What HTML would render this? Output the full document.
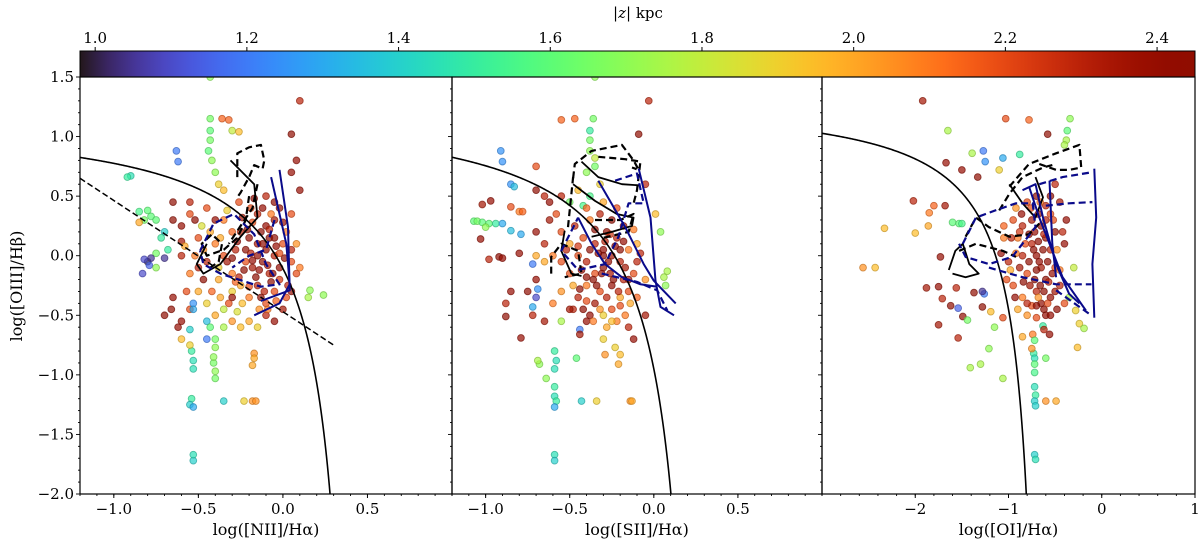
<!DOCTYPE html>
<html><head><meta charset="utf-8">
<style>
html,body{margin:0;padding:0;background:#fff;}
svg{display:block;font-family:"DejaVu Serif","Liberation Serif",serif;}
</style></head>
<body>
<svg id="chart" width="1200" height="550" viewBox="0 0 1200 550" xmlns="http://www.w3.org/2000/svg">
<defs><linearGradient id="turbo" x1="0" x2="1" y1="0" y2="0"></linearGradient></defs>
<g id="cbar"></g>
<g id="panels"></g>
<text x="0" y="0" transform="translate(22,286) rotate(-90)" text-anchor="middle" font-size="16">log([OIII]/Hβ)</text>
</svg>
<script>
// ---- data ----
const cbarTicks = [1.0, 1.2, 1.4, 1.6, 1.8, 2.0, 2.2, 2.4];
const yTicks = [1.5, 1.0, 0.5, 0.0, -0.5, -1.0, -1.5, -2.0];
const xTicksA = [-1.0, -0.5, 0.0, 0.5];
const xTicksB = [-1.0, -0.5, 0.0, 0.5];
const xTicksC = [-2, -1, 0, 1];

const pointsNII = [
[-0.25,0.2,2.3],[-0.2,0.15,2.4],[-0.15,0.1,2.35],[-0.1,0.05,2.4],[-0.05,0.0,2.3],[0,0.1,2.2],[-0.12,-0.05,2.45],[-0.18,-0.1,2.35],[-0.08,-0.15,2.3],[-0.02,-0.2,2.25],[-0.22,-0.05,2.2],[-0.28,0.05,2.3],[-0.3,-0.15,2.1],[-0.15,-0.25,2.3],[-0.05,-0.3,2.2],[-0.1,0.25,2.4],[-0.05,0.3,2.35],[-0.15,0.35,2.3],[0.02,0.2,2.1],[0.05,-0.05,2.2],[-0.25,-0.25,2.0],[-0.2,-0.35,2.1],[-0.1,-0.4,2.2],[-0.3,-0.3,1.9],[-0.35,0.0,2.2],[-0.4,0.1,2.1],[-0.45,-0.05,2.3],[-0.38,-0.2,2.0],[-0.12,0.4,2.4],[-0.02,0.4,2.45],[0.05,0.05,2.3],[0.08,-0.15,2.2],[-0.08,0.15,2.45],[-0.18,0.28,2.2],[-0.3,0.2,2.15],[-0.02,-0.1,2.4],[-0.07,-0.22,2.45],[-0.22,0.05,2.45],[-0.14,-0.12,2.4],[-0.26,-0.18,2.3],
[-0.6,0.25,2.4],[-0.55,0.35,2.2],[-0.65,0.45,2.45],[-0.5,0.15,2.2],[-0.6,0.0,2.3],[-0.55,-0.15,2.1],[-0.65,-0.35,2.4],[-0.7,-0.5,2.45],[-0.6,-0.55,2.4],[-0.55,-0.45,2.2],[-0.5,-0.3,2.0],[-0.45,-0.4,1.9],[-0.4,-0.5,2.0],[-0.35,-0.45,1.8],[-0.3,-0.55,2.05],[-0.25,-0.6,1.95],[-0.2,-0.55,2.0],[-0.15,-0.6,1.9],[-0.1,-0.5,2.3],[-0.05,-0.55,2.4],[0.05,-0.3,2.4],[0.1,-0.1,2.1],[0.08,0.1,2.05],[0.05,0.35,2.2],[0.1,0.55,2.4],[0.05,0.7,2.4],[0.05,1.02,2.45],[0.08,0.8,2.4],[0.1,1.3,2.3],[-0.36,1.15,2.15],[-0.32,1.14,2.15],[-0.3,1.05,1.8],[-0.26,1.04,1.95],[-0.43,1.15,1.65],[-0.43,1.05,1.6],[-0.43,0.97,1.65],[-0.44,0.88,1.6],[-0.42,0.8,1.7],[-0.4,0.7,1.7],[-0.38,0.6,1.9],[-0.35,0.55,1.95],[-0.63,0.88,1.2],[-0.62,0.79,1.2],[-0.9,0.67,1.45],[-0.92,0.66,1.5],[-0.8,0.38,1.6],[-0.78,0.33,1.6],[-0.82,0.3,1.65],[-0.75,0.3,1.6],[-0.85,0.37,1.55],[-0.7,0.2,1.4],[-0.72,0.15,1.5],[-0.68,0.05,1.5],[-0.75,0.02,1.65],[-0.8,-0.05,1.0],[-0.78,-0.02,1.05],[-0.82,-0.03,1.1],[-0.83,-0.15,1.1],[-0.79,-0.08,1.15],[-0.7,-0.02,1.05],[-0.85,0.28,2.0],[-0.75,-0.1,1.7],[-0.53,-0.4,1.25],[-0.53,-0.45,1.3],[-0.45,-0.55,1.35],[-0.55,-0.62,1.4],[-0.45,-0.7,1.2],[-0.4,-0.7,1.65],[-0.35,-0.6,1.75],[-0.43,-0.6,1.6],[-0.54,-0.8,1.5],[-0.53,-0.88,1.45],[-0.53,-0.95,1.45],[-0.54,-1.2,1.5],[-0.55,-1.25,1.4],[-0.53,-1.27,1.3],[-0.53,-1.72,1.4],[-0.53,-1.67,1.45],[-0.41,-0.9,1.65],[-0.41,-0.85,1.7],[-0.4,-0.97,1.7],[-0.4,-1.03,1.65],[-0.4,-0.77,1.7],[-0.35,-1.22,1.4],[-0.23,-1.22,1.9],[-0.18,-1.22,2.05],[-0.16,-1.22,2.05],[-0.17,-0.82,2.05],[-0.17,-0.86,2.0],[-0.18,-0.92,2.0],[-0.6,-0.7,1.95],[-0.55,-0.75,1.9],[0.16,-0.29,1.7],[0.15,-0.35,1.75],[0.24,-0.33,1.7],[-0.43,1.5,1.7],[-0.55,0.45,2.3],[-0.65,0.3,2.45],[-0.6,0.12,2.35],[-0.5,-0.1,2.3],[-0.48,0.25,1.85],[-0.35,0.3,2.1],[0.0,-0.45,2.35],[-0.3,-0.35,2.4],[-0.66,-0.45,2.45],[-0.62,-0.6,2.4],[-0.4,0.3,2.4],[-0.45,0.4,2.2],[-0.15,0.0,2.4],[-0.05,0.15,2.45],
[-0.27,0.12,2.4],[-0.23,-0.12,2.45],[-0.19,0.02,2.3],[-0.13,0.2,2.45],[-0.09,-0.08,2.35],[-0.04,0.08,2.4],[0.01,-0.02,2.45],[-0.16,-0.18,2.45],[-0.11,-0.3,2.3],[-0.2,-0.26,2.2],[-0.28,-0.22,2.15],[-0.33,-0.05,2.35],[-0.37,0.15,2.0],[-0.24,0.32,2.35],[-0.19,0.4,2.2],[-0.07,0.35,2.1],[0.0,0.28,2.4],[0.03,-0.25,2.3],[-0.04,-0.38,2.15],[-0.14,-0.45,2.05],[-0.24,-0.4,1.95],[-0.32,-0.4,2.2],[-0.42,-0.3,2.15],[-0.47,-0.2,2.45],[-0.52,0.0,2.1],[-0.43,0.2,2.0],[-0.33,0.38,1.9],[-0.26,0.45,2.2],[-0.17,0.48,2.4],[-0.1,0.5,2.3],[-0.06,-0.15,2.45],[-0.12,0.1,2.45],[-0.21,0.22,2.45],[-0.3,-0.02,2.45],[-0.18,-0.04,2.4],[-0.08,0.22,2.3],[-0.02,0.02,2.2],[0.02,-0.35,2.2],[-0.09,-0.45,2.1],[-0.27,-0.47,1.85],[-0.37,-0.35,2.0],[-0.57,-0.3,2.2],[-0.58,0.08,2.0],[-0.52,0.3,2.45],[-0.47,0.05,2.05],[-0.38,-0.1,1.9],[-0.13,-0.35,2.45],[-0.05,0.45,2.45]
];
const pointsSII = [
[-0.35,0.1,2.3],[-0.3,0.05,2.4],[-0.25,0.0,2.35],[-0.2,-0.05,2.3],[-0.3,-0.1,2.45],[-0.35,-0.15,2.2],[-0.4,-0.05,2.3],[-0.45,0.0,2.2],[-0.28,0.2,2.4],[-0.22,0.15,2.3],[-0.15,0.05,2.1],[-0.18,-0.2,2.3],[-0.25,-0.25,2.4],[-0.32,-0.3,2.2],[-0.4,-0.25,2.1],[-0.45,-0.35,2.3],[-0.35,-0.4,2.35],[-0.25,-0.45,2.2],[-0.2,-0.35,2.0],[-0.15,-0.3,2.2],[-0.42,0.15,2.2],[-0.38,0.3,2.1],[-0.32,0.35,2.3],[-0.25,0.3,2.45],[-0.5,-0.15,2.2],[-0.52,0.05,2.3],[-0.48,-0.25,2.0],[-0.3,-0.5,1.9],[-0.22,-0.55,2.1],[-0.38,-0.5,2.4],[-0.28,-0.6,2.0],[-0.12,-0.15,2.2],[-0.1,0.1,2.0],[-0.42,-0.45,2.45],[-0.3,0.0,2.45],[-0.2,0.05,2.45],[-0.36,-0.2,2.45],[-0.26,-0.15,2.35],
[-1.02,0.43,2.35],[-0.97,0.46,2.4],[-0.85,0.41,2.2],[-0.8,0.37,2.1],[-0.78,0.37,2.15],[-1.03,0.14,2.4],[-0.92,-0.01,2.45],[-0.9,-0.02,2.4],[-0.98,-0.03,2.3],[-0.8,0.02,2.4],[-0.7,0.55,2.45],[-0.65,0.5,2.3],[-0.7,0.75,2.2],[-0.62,0.45,2.4],[-0.58,0.35,2.2],[-0.7,0.2,2.4],[-0.65,0.1,2.3],[-0.6,0.0,2.1],[-0.65,-0.05,2.0],[-0.7,-0.2,2.4],[-0.75,-0.3,2.45],[-0.85,-0.3,2.4],[-0.88,-0.4,2.3],[-0.88,-0.51,2.45],[-0.79,-0.69,2.4],[-0.72,-0.5,2.3],[-0.65,-0.55,2.35],[-0.72,-0.07,1.2],[-0.69,-0.28,1.25],[-0.72,-0.43,1.3],[-0.7,-0.35,1.1],[-0.85,0.21,1.35],[-0.79,0.18,1.3],[-0.6,-0.4,2.1],[-0.55,-0.55,1.75],[-0.59,-0.8,1.5],[-0.58,-0.88,1.45],[-0.59,-0.95,1.45],[-0.59,-1.1,1.5],[-0.59,-1.18,1.45],[-0.58,-1.22,1.5],[-0.59,-1.27,1.3],[-0.59,-1.67,1.45],[-0.59,-1.72,1.4],[-0.68,-0.91,1.7],[-0.69,-0.88,1.75],[-0.64,-1.03,1.7],[-0.46,-0.86,1.6],[-0.44,-0.62,1.2],[-0.44,-0.66,2.35],[-0.43,-1.22,1.4],[-0.34,-1.22,1.9],[-0.14,-1.22,2.05],[-0.13,-1.22,2.0],[-0.29,-0.83,2.05],[-0.2,-0.83,1.95],[-0.23,-0.77,1.9],[-0.21,-0.91,2.0],[-0.4,-0.55,2.4],[-0.3,-0.7,1.9],[-0.15,-0.6,2.3],[-0.12,-0.7,2.4],
[-1.07,0.29,1.6],[-1.05,0.29,1.65],[-1.02,0.28,1.6],[-0.98,0.27,1.6],[-1.0,0.24,1.7],[-0.94,0.27,1.5],[-0.9,0.27,1.3],[-0.91,0.88,1.25],[-0.9,0.79,1.25],[-0.85,0.6,1.25],[-0.83,0.58,1.35],[-0.55,1.14,2.15],[-0.47,1.15,2.15],[-0.36,1.15,1.65],[-0.38,1.05,1.5],[-0.38,0.97,1.65],[-0.38,0.88,1.7],[-0.35,0.82,1.8],[-0.35,0.75,1.65],[-0.4,0.7,1.7],[-0.32,0.6,1.9],[-0.38,0.5,1.55],[-0.42,0.42,1.55],[-0.5,0.45,1.65],[-0.03,1.3,2.3],[-0.09,1.02,2.45],[-0.05,0.6,2.3],[0.01,0.35,1.95],[0.04,0.2,1.7],[0.08,-0.13,1.75],[0.06,-0.18,1.75],[0.07,-0.25,1.7],[-0.05,-0.5,2.35],[-0.45,0.55,1.95],[-0.35,1.5,1.7],[-0.55,0.5,2.3],[-0.7,0.0,2.0],[-0.62,0.3,2.35],[-0.55,0.2,2.2],[-0.48,-0.45,2.3],
[-0.33,0.02,2.45],[-0.27,-0.05,2.4],[-0.23,0.08,2.45],[-0.17,-0.1,2.35],[-0.29,0.12,2.3],[-0.38,0.05,2.45],[-0.43,-0.12,2.4],[-0.34,-0.25,2.45],[-0.28,-0.35,2.3],[-0.2,-0.42,2.2],[-0.15,-0.2,2.4],[-0.1,-0.05,2.3],[-0.12,0.22,2.1],[-0.18,0.25,2.35],[-0.22,0.4,2.2],[-0.3,0.45,2.0],[-0.4,0.4,2.15],[-0.47,0.25,2.3],[-0.5,0.1,2.0],[-0.55,-0.05,2.2],[-0.55,-0.3,2.05],[-0.5,-0.45,2.35],[-0.4,-0.38,2.2],[-0.32,-0.45,2.05],[-0.25,-0.55,1.95],[-0.17,-0.5,2.1],[-0.1,-0.35,2.15],[-0.05,-0.2,2.05],[-0.08,0.02,2.3],[-0.35,0.22,2.45],[-0.24,-0.2,2.45],[-0.4,-0.18,2.45],[-0.31,-0.15,2.4],[-0.21,-0.3,2.3],[-0.45,0.08,2.25],[-0.26,0.18,2.25],[-0.14,-0.4,2.0],[-0.36,-0.55,2.1],[-0.18,0.12,2.4],[-0.44,-0.28,2.45]
];
const pointsOI = [
[-0.75,0.1,2.3],[-0.7,0.0,2.4],[-0.65,-0.1,2.35],[-0.6,-0.2,2.45],[-0.7,-0.3,2.3],[-0.8,-0.15,2.2],[-0.85,0.0,2.3],[-0.9,0.15,2.1],[-0.75,0.3,2.35],[-0.65,0.25,2.4],[-0.55,0.05,2.3],[-0.5,-0.1,2.2],[-0.55,-0.35,2.4],[-0.65,-0.4,2.45],[-0.75,-0.42,2.2],[-0.85,-0.35,2.1],[-0.95,-0.25,2.2],[-1.0,-0.05,2.3],[-0.8,0.45,2.2],[-0.7,0.5,2.45],[-0.6,0.42,2.3],[-0.55,0.35,2.2],[-0.5,0.2,2.45],[-0.45,-0.25,2.3],[-0.6,-0.5,2.4],[-0.7,-0.52,2.2],[-0.62,-0.45,2.45],[-0.8,-0.5,2.05],[-0.9,-0.45,2.0],[-0.72,-0.2,2.45],[-0.68,0.12,2.45],[-0.78,-0.05,2.45],[-0.58,-0.05,2.45],[-0.85,0.25,2.3],[-0.95,0.3,2.2],[-1.05,0.15,2.1],[-0.6,0.15,2.4],[-0.7,-0.42,2.45],
[-1.92,1.3,2.35],[-1.03,1.15,2.2],[-0.78,1.14,2.15],[-0.34,1.15,1.7],[-1.65,1.05,1.75],[-0.58,1.02,2.45],[-0.37,1.05,1.6],[-0.38,0.97,1.75],[-0.4,0.93,1.75],[-1.27,0.88,1.2],[-1.25,0.79,1.25],[-1.06,0.82,1.3],[-0.88,0.85,1.5],[-1.39,0.86,1.75],[-1.67,0.78,2.4],[-1.5,0.72,2.4],[-1.33,0.66,2.45],[-1.1,0.72,1.9],[-2.02,0.46,2.3],[-1.8,0.42,2.15],[-1.85,0.36,2.1],[-1.68,0.42,2.35],[-2.33,0.23,1.95],[-2.0,0.19,1.95],[-1.86,0.25,2.0],[-2.56,-0.1,2.05],[-2.43,-0.1,1.95],[-1.73,-0.01,2.4],[-1.6,0.28,1.6],[-1.53,0.27,1.6],[-1.5,0.27,1.55],[-1.88,-0.27,2.35],[-1.75,-0.26,2.4],[-1.71,-0.36,2.3],[-1.62,-0.42,2.45],[-1.56,-0.27,2.3],[-1.54,-0.44,1.15],[-1.49,-0.51,2.45],[-1.75,-0.58,2.35],[-1.54,-0.69,2.3],[-1.26,-0.32,1.2],[-1.28,-0.3,1.05],[-1.37,-0.31,2.45],[-1.28,-0.43,2.45],[-1.44,-0.54,1.65],[-1.19,-0.47,1.95],[-1.06,-0.52,2.2],[-1.15,-0.6,1.7],[-1.21,-0.78,1.7],[-1.3,-0.91,1.75],[-1.41,-0.94,1.75],[-1.06,-1.03,1.75],[-0.85,-0.68,2.0],[-0.74,-0.66,2.1],[-0.63,-0.59,1.5],[-0.56,-0.66,2.4],[-0.26,-0.77,1.95],[-0.24,-0.57,1.9],[-0.19,-0.61,1.75],[-0.28,-0.46,1.9],[-0.35,-0.35,1.75],[-0.3,-0.1,1.8],[-0.4,0.1,2.4],[-0.38,0.3,2.4],[-0.45,0.45,2.35],[-0.5,0.6,2.3],[-0.72,-0.71,1.6],[-0.73,-0.82,1.5],[-0.72,-0.86,1.45],[-0.72,-0.91,1.6],[-0.72,-0.98,1.55],[-0.72,-1.1,1.45],[-0.71,-1.17,1.5],[-0.72,-1.22,1.4],[-0.71,-1.26,1.4],[-0.72,-1.67,1.4],[-0.71,-1.71,1.45],[-0.6,-1.22,2.05],[-0.49,-1.22,2.0],[-0.6,-0.86,1.65],[-0.75,-0.78,2.05],[-0.55,-0.5,2.4],[-0.62,-0.62,2.3],
[-0.73,0.05,2.45],[-0.67,-0.05,2.4],[-0.63,0.05,2.45],[-0.77,-0.25,2.35],[-0.66,-0.25,2.45],[-0.57,-0.22,2.3],[-0.82,0.1,2.2],[-0.88,-0.1,2.35],[-0.92,0.02,2.1],[-0.97,0.15,2.3],[-0.86,0.35,2.4],[-0.76,0.4,2.2],[-0.68,0.35,2.45],[-0.6,0.3,2.3],[-0.52,0.3,2.2],[-0.48,0.05,2.05],[-0.45,-0.12,2.1],[-0.5,-0.3,2.35],[-0.58,-0.4,2.2],[-0.68,-0.35,2.05],[-0.8,-0.4,2.3],[-0.93,-0.35,2.4],[-1.02,-0.2,2.2],[-1.08,0.02,2.4],[-1.05,0.25,2.15],[-0.92,0.4,2.05],[-0.72,0.2,2.4],[-0.62,0.18,2.3],[-0.78,0.18,2.45],[-0.84,-0.22,2.45],[-0.7,-0.12,2.45],[-0.62,-0.3,2.45],[-0.53,-0.15,2.4],[-0.42,0.2,2.3],[-0.4,-0.4,2.2],[-0.48,-0.45,2.45],[-0.66,0.45,2.1],[-0.55,0.5,2.45],[-0.88,0.2,2.25],[-0.98,-0.12,2.0]
];

const tracksNII = [
 {c:"#000",d:true,w:2.2,p:[[-0.27,0.66],[-0.27,0.86],[-0.2,0.91],[-0.13,0.93],[-0.11,0.8],[-0.12,0.73],[-0.17,0.76],[-0.2,0.66],[-0.25,0.53],[-0.27,0.49]]},
 {c:"#000",d:true,w:2.2,p:[[-0.2,0.5],[-0.22,0.3],[-0.27,0.15],[-0.35,0.05],[-0.45,0.0],[-0.48,0.1],[-0.42,0.18],[-0.36,0.1],[-0.38,-0.05],[-0.45,-0.12]]},
 {c:"#000",d:true,w:2.2,p:[[-0.15,0.6],[-0.18,0.4],[-0.25,0.25],[-0.32,0.1]]},
 {c:"#000",d:false,w:1.8,p:[[-0.31,0.8],[-0.17,0.6],[-0.15,0.32],[-0.25,0.16],[-0.37,-0.07],[-0.47,-0.15],[-0.51,-0.07],[-0.45,0.1]]},
 {c:"#0a0a8a",d:false,w:2,p:[[-0.07,0.66],[0.02,0.1],[0.04,-0.24],[-0.02,-0.4],[-0.17,-0.5]]},
 {c:"#0a0a8a",d:false,w:2,p:[[-0.02,0.72],[0.03,0.24],[0.04,-0.29],[-0.13,-0.38]]},
 {c:"#0a0a8a",d:true,w:2.2,p:[[-0.49,0.04],[-0.41,0.27],[-0.29,0.35],[-0.17,0.18],[-0.1,-0.07],[-0.02,-0.24],[-0.13,-0.26],[-0.37,-0.15],[-0.47,-0.07],[-0.49,0.04]]},
 {c:"#0a0a8a",d:true,w:2.2,p:[[-0.05,0.3],[-0.1,0.05],[-0.2,0.0],[-0.3,-0.1]]}
];
const tracksSII = [
 {c:"#000",d:true,w:2.2,p:[[-0.48,0.65],[-0.47,0.77],[-0.37,0.88],[-0.19,0.93],[-0.12,0.8],[-0.09,0.72],[-0.13,0.74]]},
 {c:"#000",d:true,w:2.2,p:[[-0.33,0.83],[-0.17,0.81],[-0.08,0.79],[-0.1,0.55],[-0.12,0.44]]},
 {c:"#000",d:true,w:2.2,p:[[-0.51,0.24],[-0.49,0.52],[-0.48,0.66]]},
 {c:"#000",d:true,w:2.2,p:[[-0.61,-0.15],[-0.61,-0.01],[-0.55,0.1],[-0.45,0.04],[-0.43,-0.15],[-0.53,-0.18]]},
 {c:"#000",d:true,w:2.2,p:[[-0.35,0.3],[-0.2,0.3],[-0.12,0.35],[-0.15,0.2],[-0.3,0.15]]},
 {c:"#000",d:false,w:1.8,p:[[-0.43,0.79],[-0.33,0.66],[-0.19,0.6],[-0.08,0.59]]},
 {c:"#000",d:false,w:1.8,p:[[-0.48,0.6],[-0.35,0.46],[-0.22,0.35],[-0.12,0.32],[-0.13,0.25],[-0.25,0.2],[-0.37,0.16]]},
 {c:"#000",d:false,w:1.8,p:[[-0.53,0.21],[-0.55,0.04],[-0.49,-0.15],[-0.43,-0.17]]},
 {c:"#0a0a8a",d:false,w:2,p:[[-0.09,0.73],[-0.02,0.32],[0.01,-0.21],[0.04,-0.43],[0.12,-0.5]]},
 {c:"#0a0a8a",d:false,w:2,p:[[-0.33,0.63],[-0.17,0.24],[-0.06,-0.07],[0.0,-0.21],[0.13,-0.4]]},
 {c:"#0a0a8a",d:false,w:2,p:[[-0.45,0.32],[-0.37,0.1],[-0.29,-0.07],[-0.19,-0.18],[-0.08,-0.24],[0.02,-0.26]]},
 {c:"#0a0a8a",d:true,w:2.2,p:[[-0.23,0.63],[-0.1,0.69],[-0.06,0.44],[-0.15,0.44],[-0.21,0.16],[-0.29,-0.07],[-0.45,-0.12],[-0.55,0.04],[-0.45,0.32]]},
 {c:"#0a0a8a",d:true,w:2.2,p:[[-0.31,-0.15],[-0.1,-0.22],[0.02,-0.29],[0.08,-0.46]]}
];
const tracksOI = [
 {c:"#000",d:true,w:2.2,p:[[-0.99,0.58],[-0.78,0.77],[-0.49,0.86],[-0.24,0.93],[-0.22,0.74],[-0.35,0.72],[-0.49,0.72],[-0.67,0.77]]},
 {c:"#000",d:true,w:2.2,p:[[-1.1,0.38],[-0.99,0.52],[-0.85,0.66],[-0.63,0.74],[-0.49,0.77]]},
 {c:"#000",d:true,w:2.2,p:[[-1.46,0.16],[-1.35,0.32],[-1.21,0.24],[-0.99,0.16],[-0.78,0.18],[-0.67,0.27]]},
 {c:"#000",d:true,w:2.2,p:[[-1.53,0.04],[-1.35,0.1],[-1.06,0.04],[-0.92,-0.01]]},
 {c:"#000",d:false,w:1.8,p:[[-1.64,-0.12],[-1.57,0.04],[-1.49,0.1],[-1.42,-0.07],[-1.32,-0.15],[-1.46,-0.18],[-1.6,-0.15]]},
 {c:"#000",d:false,w:1.8,p:[[-0.99,0.6],[-0.85,0.44],[-0.71,0.32],[-0.63,0.49],[-0.71,0.66]]},
 {c:"#0a0a8a",d:false,w:2,p:[[-0.08,0.73],[-0.06,0.32],[-0.1,-0.07],[-0.08,-0.52]]},
 {c:"#0a0a8a",d:false,w:2,p:[[-0.85,0.55],[-0.71,0.6],[-0.63,0.32],[-0.49,-0.07],[-0.35,-0.32],[-0.24,-0.4]]},
 {c:"#0a0a8a",d:false,w:2,p:[[-0.78,0.58],[-0.67,0.32],[-0.53,0.04],[-0.42,-0.18],[-0.17,-0.46]]},
 {c:"#0a0a8a",d:false,w:2,p:[[-0.56,0.63],[-0.53,0.1],[-0.49,-0.18]]},
 {c:"#0a0a8a",d:true,w:2.2,p:[[-0.67,0.6],[-0.42,0.66],[-0.11,0.7]]},
 {c:"#0a0a8a",d:true,w:2.2,p:[[-0.6,0.42],[-0.35,0.44],[-0.1,0.45]]},
 {c:"#0a0a8a",d:true,w:2.2,p:[[-1.49,0.1],[-1.35,0.32],[-1.14,0.38],[-0.92,0.44],[-0.74,0.44],[-0.71,0.24],[-0.96,-0.01],[-1.21,-0.07],[-1.46,-0.01],[-1.53,0.1]]},
 {c:"#0a0a8a",d:true,w:2.2,p:[[-1.21,-0.1],[-0.85,-0.18],[-0.49,-0.24],[-0.11,-0.24]]},
 {c:"#0a0a8a",d:true,w:2.2,p:[[-0.49,-0.29],[-0.13,-0.49]]}
];

// ---- rendering ----
const NS = "http://www.w3.org/2000/svg";
function mk(tag, attrs, parent) {
  const e = document.createElementNS(NS, tag);
  for (const k in attrs) e.setAttribute(k, attrs[k]);
  if (parent) parent.appendChild(e);
  return e;
}
const VMIN = 0.98, VMAX = 2.45;
function turbo(t) {
  t = Math.max(0, Math.min(1, t));
  const r = 0.13572138 + t*(4.61539260 + t*(-42.66032258 + t*(132.13108234 + t*(-152.94239396 + t*59.28637943))));
  const g = 0.09140261 + t*(2.19418839 + t*(4.84296658 + t*(-14.18503333 + t*(4.27729857 + t*2.82956604))));
  const b = 0.10667330 + t*(12.64194608 + t*(-60.58204836 + t*(110.36276771 + t*(-89.90310912 + t*27.34824973))));
  const c = v => Math.round(255*Math.max(0, Math.min(1, v)));
  return [c(r), c(g), c(b)];
}
function zcol(z, k) { const c = turbo((z - VMIN)/(VMAX - VMIN)); k = k || 1; return `rgb(${Math.round(c[0]*k)},${Math.round(c[1]*k)},${Math.round(c[2]*k)})`; }

const grad = document.getElementById('turbo');
for (let i = 0; i <= 40; i++) { mk('stop', {offset: (i/40), 'stop-color': zcol(VMIN + (VMAX-VMIN)*i/40)}, grad); }
const cb = document.getElementById('cbar');
const CBX0 = 80, CBX1 = 1195, CBY0 = 51, CBY1 = 77;
const cbScale = v => CBX0 + (v - VMIN)/(VMAX - VMIN)*(CBX1 - CBX0);
const cbRect = mk('rect', {x: CBX0, y: CBY0, width: CBX1-CBX0, height: CBY1-CBY0, fill: 'url(#turbo)', stroke: '#000', 'stroke-width': 1}, cb);


cbarTicks.forEach(v => {
  const x = cbScale(v);
  mk('line', {x1: x, x2: x, y1: CBY0, y2: CBY0-4, stroke: '#000', 'stroke-width': 1}, cb);
  const t = mk('text', {x: x, y: CBY0-8, 'text-anchor': 'middle', 'font-size': 15}, cb);
  t.textContent = v.toFixed(1);
  
  
});
const cbt = mk('text', {x: 638, y: 18, 'text-anchor': 'middle', 'font-size': 15}, cb);
cbt.innerHTML = '|<tspan font-style="italic">z</tspan>| kpc';



const PY0 = 77, PY1 = 494, YMIN = -2.0, YMAX = 1.5;
const yScale = v => PY1 - (v - YMIN)/(YMAX - YMIN)*(PY1 - PY0);
const panelsG = document.getElementById('panels');
const minus = s => s.replace('-', '\u2212');

function drawPanel(cfg) {
  const g = mk('g', {}, panelsG);
  
  
  const xs = v => cfg.x0 + (v - cfg.xmin)/(cfg.xmax - cfg.xmin)*(cfg.x1 - cfg.x0);
  const clipId = 'clip-' + cfg.name;
  const cp = mk('clipPath', {id: clipId}, g);
  mk('rect', {x: cfg.x0, y: PY0, width: cfg.x1-cfg.x0, height: PY1-PY0}, cp);
  const plot = mk('g', {'clip-path': `url(#${clipId})`}, g);
  const pg = mk('g', {}, plot);
  
  
  cfg.points.forEach(p => {
    const c = mk('circle', {cx: xs(p[0]), cy: yScale(p[1]), r: 3.4, fill: zcol(p[2]), 'fill-opacity': 0.7, stroke: zcol(p[2], 0.75), 'stroke-opacity': 0.7, 'stroke-width': 0.9}, pg);
    
    
  });
  let d = '';
  const a = cfg.kew;
  for (let i = 0; i <= 300; i++) {
    const x = cfg.xmin + (a.xend - 0.0005 - cfg.xmin)*i/300;
    const y = a.A/(x - a.B) + a.C;
    if (y < YMIN - 0.5) continue;
    d += (d ? 'L' : 'M') + xs(x).toFixed(2) + ',' + yScale(y).toFixed(2);
  }
  const kc = mk('path', {d: d, fill: 'none', stroke: '#000', 'stroke-width': 1.6}, plot);
  
  
  if (cfg.dashLine) {
    const L = cfg.dashLine;
    const dl = mk('line', {x1: xs(L[0][0]), y1: yScale(L[0][1]), x2: xs(L[1][0]), y2: yScale(L[1][1]), stroke: '#000', 'stroke-width': 1.5, 'stroke-dasharray': '6,3'}, plot);
    
    
  }
  cfg.tracks.forEach(t => {
    const pd = t.p.map((q, i) => (i ? 'L' : 'M') + xs(q[0]).toFixed(1) + ',' + yScale(q[1]).toFixed(1)).join('');
    const tp = mk('path', {d: pd, fill: 'none', stroke: t.c, 'stroke-width': t.w, 'stroke-dasharray': t.d ? '7,4' : 'none', 'stroke-linejoin': 'round'}, plot);
    
    
  });
  const fr = mk('rect', {x: cfg.x0, y: PY0, width: cfg.x1-cfg.x0, height: PY1-PY0, fill: 'none', stroke: '#000', 'stroke-width': 1.2}, g);
  
  
  for (let v = -20; v <= 15; v++) {
    const y = yScale(v/10);
    const major = v % 5 === 0;
    mk('line', {x1: cfg.x0, x2: cfg.x0 - (major ? 4 : 2), y1: y, y2: y, stroke: '#000', 'stroke-width': 0.9}, g);
  }
  if (cfg.yLabels) {
    yTicks.forEach(v => {
      const t = mk('text', {x: cfg.x0 - 6, y: yScale(v) + 5, 'text-anchor': 'end', 'font-size': 15}, g);
      t.textContent = minus(v.toFixed(1));
      
      
    });
  }
  const n = Math.round((cfg.xmax - cfg.xmin)/cfg.minor);
  for (let i = 0; i <= n; i++) {
    const x = xs(cfg.xmin + i*cfg.minor);
    mk('line', {x1: x, x2: x, y1: PY1, y2: PY1 + 2, stroke: '#000', 'stroke-width': 0.9}, g);
  }
  cfg.ticks.forEach(v => {
    const x = xs(v);
    mk('line', {x1: x, x2: x, y1: PY1, y2: PY1 + 4, stroke: '#000', 'stroke-width': 1}, g);
    const t = mk('text', {x: x, y: PY1 + 20, 'text-anchor': 'middle', 'font-size': 15}, g);
    t.textContent = minus(cfg.fmt(v));
    
    
  });
  const xl = mk('text', {x: (cfg.x0 + cfg.x1)/2, y: PY1 + 41, 'text-anchor': 'middle', 'font-size': 16}, g);
  xl.textContent = cfg.xlabel;
  
  
}

drawPanel({name: 'panel-nii', x0: 80, x1: 452, xmin: -1.2, xmax: 1.0, points: pointsNII, tracks: tracksNII,
  kew: {A: 0.61, B: 0.47, C: 1.19, xend: 0.47}, dashLine: [[-1.2, 0.65], [0.3, -0.75]],
  ticks: xTicksA, minor: 0.1, fmt: v => v.toFixed(1), yLabels: true, xlabel: 'log([NII]/Hα)'});
drawPanel({name: 'panel-sii', x0: 452, x1: 822, xmin: -1.2, xmax: 1.0, points: pointsSII, tracks: tracksSII,
  kew: {A: 0.72, B: 0.32, C: 1.30, xend: 0.32},
  ticks: xTicksB, minor: 0.1, fmt: v => v.toFixed(1), yLabels: false, xlabel: 'log([SII]/Hα)'});
drawPanel({name: 'panel-oi', x0: 822, x1: 1195, xmin: -3, xmax: 1, points: pointsOI, tracks: tracksOI,
  kew: {A: 0.73, B: -0.59, C: 1.33, xend: -0.59},
  ticks: xTicksC, minor: 0.2, fmt: v => String(v), yLabels: false, xlabel: 'log([OI]/Hα)'});
</script>
</body></html>
